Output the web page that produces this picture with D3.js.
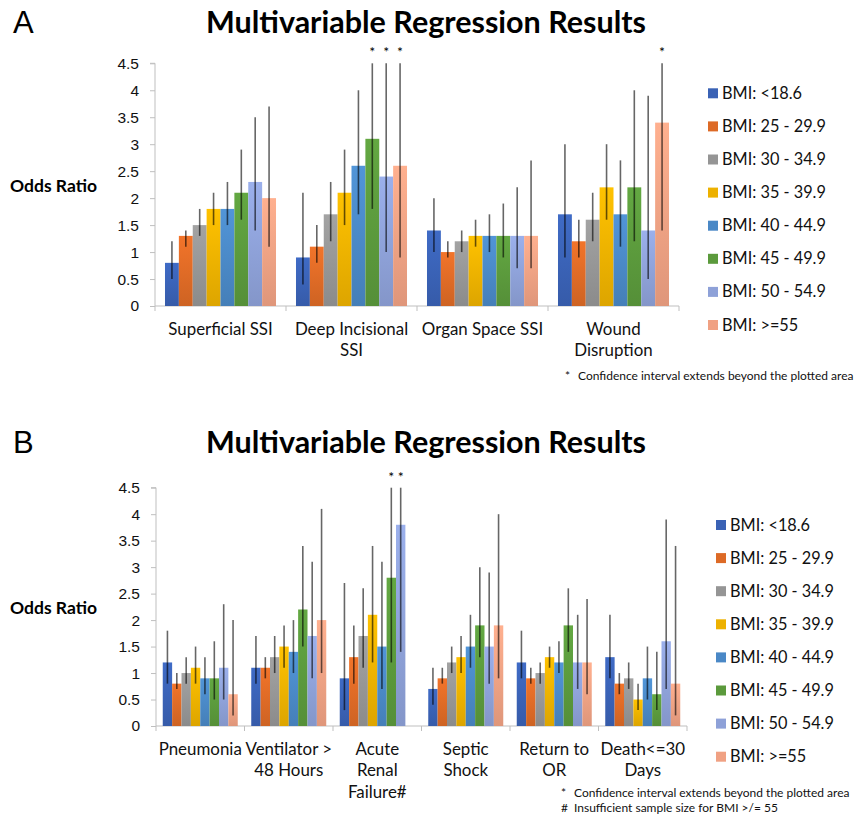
<!DOCTYPE html>
<html>
<head>
<meta charset="utf-8">
<script src="https://cdn.jsdelivr.net/npm/d3@7"></script>
<style>
  body { margin: 0; background: #fff; }
  svg { display: block; font-family: Lato, "Open Sans", sans-serif; }
  .axis path, .axis line { stroke: #bfbfbf; }
  .axis text { font-size: 15.5px; fill: #111; }
</style>
</head>
<body>
<svg id="chart" width="856" height="819"></svg>
<script>
//

const bmiGroups = ['BMI: <18.6', 'BMI: 25 - 29.9', 'BMI: 30 - 34.9', 'BMI: 35 - 39.9',
  'BMI: 40 - 44.9', 'BMI: 45 - 49.9', 'BMI: 50 - 54.9', 'BMI: >=55']
const bmiColors = ['#3a62b5', '#dd6a26', '#959595', '#edb100', '#4a88c6', '#5b9a3c', '#8ea1d8', '#f0a183']
const yTicks = [0, 0.5, 1, 1.5, 2, 2.5, 3, 3.5, 4, 4.5]

// panel A, wound outcomes (null hi = CI beyond plotted area)
const catsA = ['Superficial SSI', 'Deep Incisional|SSI', 'Organ Space SSI', 'Wound|Disruption']
const orA = [
  [0.8, 1.3, 1.5, 1.8, 1.8, 2.1, 2.3, 2.0],
  [0.9, 1.1, 1.7, 2.1, 2.6, 3.1, 2.4, 2.6],
  [1.4, 1.0, 1.2, 1.3, 1.3, 1.3, 1.3, 1.3],
  [1.7, 1.2, 1.6, 2.2, 1.7, 2.2, 1.4, 3.4]
]
const loA = [
  [0.5, 1.1, 1.3, 1.5, 1.5, 1.6, 1.4, 1.1],
  [0.4, 0.8, 1.2, 1.5, 1.7, 1.8, 1.0, 0.9],
  [1.0, 0.9, 1.0, 1.1, 1.0, 0.9, 0.7, 0.7],
  [0.9, 0.9, 1.2, 1.6, 1.1, 1.2, 0.5, 1.4]
]
const hiA = [
  [1.2, 1.4, 1.8, 2.1, 2.3, 2.9, 3.5, 3.7],
  [2.1, 1.5, 2.3, 2.9, 4.0, null, null, null],
  [2.0, 1.2, 1.4, 1.6, 1.7, 1.9, 2.2, 2.7],
  [3.0, 1.6, 2.1, 3.0, 2.7, 4.0, 3.9, null]
]

// panel B, systemic outcomes (null or = no estimate)
const catsB = ['Pneumonia', 'Ventilator >|48 Hours', 'Acute|Renal|Failure#', 'Septic|Shock', 'Return to|OR', 'Death<=30|Days']
const orB = [
  [1.2, 0.8, 1.0, 1.1, 0.9, 0.9, 1.1, 0.6],
  [1.1, 1.1, 1.3, 1.5, 1.4, 2.2, 1.7, 2.0],
  [0.9, 1.3, 1.7, 2.1, 1.5, 2.8, 3.8, null],
  [0.7, 0.9, 1.2, 1.3, 1.5, 1.9, 1.5, 1.9],
  [1.2, 0.9, 1.0, 1.3, 1.2, 1.9, 1.2, 1.2],
  [1.3, 0.8, 0.9, 0.5, 0.9, 0.6, 1.6, 0.8]
]
const loB = [
  [0.8, 0.7, 0.8, 0.8, 0.6, 0.5, 0.5, 0.2],
  [0.8, 0.9, 1.0, 1.1, 1.0, 1.5, 0.9, 1.0],
  [0.3, 0.8, 1.1, 1.2, 0.7, 1.2, 1.4, null],
  [0.4, 0.8, 1.0, 1.0, 1.1, 1.3, 0.8, 0.9],
  [0.9, 0.8, 0.8, 1.1, 1.0, 1.4, 0.7, 0.6],
  [0.9, 0.6, 0.7, 0.3, 0.5, 0.3, 0.7, 0.2]
]
const hiB = [
  [1.8, 1.0, 1.3, 1.5, 1.3, 1.6, 2.3, 2.0],
  [1.7, 1.3, 1.7, 1.9, 2.0, 3.4, 3.1, 4.1],
  [2.7, 1.9, 2.6, 3.4, 3.1, null, null, null],
  [1.1, 1.1, 1.5, 1.7, 2.1, 3.0, 2.9, 4.0],
  [1.8, 1.1, 1.2, 1.5, 1.6, 2.6, 2.1, 2.4],
  [2.1, 1.0, 1.2, 0.8, 1.5, 1.4, 3.9, 3.4]
]

const footA = ['Confidence interval extends beyond the plotted area']
const footB = ['Confidence interval extends beyond the plotted area', 'Insufficient sample size for BMI >/= 55']

//

const svg = d3.select('#chart')
const defs = svg.append('defs')

bmiColors.forEach((c, i) => {
  const g = defs.append('linearGradient')
      .attr('id', `grad${i}`)
      .attr('x1', 0).attr('y1', 0).attr('x2', 0).attr('y2', 1)
  g.append('stop').attr('offset', '0%').attr('stop-color', d3.color(c).brighter(0.25))
  g.append('stop').attr('offset', '100%').attr('stop-color', d3.color(c).darker(0.2))
})

drawPanel({
  letter: 'A', top: 0, cats: catsA, or: orA, lo: loA, hi: hiA,
  x0: 155, x1: 679, yZero: 306, yTop: 63.3,
  legendX: 708, legendY: 93.3, labelY: 334.5,
  notes: footA, noteMarks: ['*'], noteX: 565, noteY: 380
})

drawPanel({
  letter: 'B', top: 420, cats: catsB, or: orB, lo: loB, hi: hiB,
  x0: 156, x1: 687, yZero: 726, yTop: 487.7,
  legendX: 716, legendY: 525, labelY: 754.5,
  notes: footB, noteMarks: ['*', '#'], noteX: 561, noteY: 797
})

function drawPanel (p) {
  const g = svg.append('g')

  g.append('text')
      .attr('x', 13)
      .attr('y', p.top + 33)
      .attr('font-size', 31)
      .attr('font-family', 'Liberation Sans, Arial, sans-serif')
      .text(p.letter)

  g.append('text')
      .attr('x', 426)
      .attr('y', p.top + 33)
      .attr('text-anchor', 'middle')
      .attr('font-size', 30.5)
      .attr('font-weight', 'bold')
      .text('Multivariable Regression Results')

  g.append('text')
      .attr('x', 10)
      .attr('y', (p.yZero + p.yTop) / 2 + 7)
      .attr('font-size', 17.5)
      .attr('font-weight', 'bold')
      .text('Odds Ratio')

  const x = d3.scaleBand()
    .domain(p.cats)
    .range([p.x0, p.x1])

  const xi = d3.scaleBand()
    .domain(d3.range(bmiGroups.length))
    .range([0, x.bandwidth()])
    .paddingOuter(0.72)

  const y = d3.scaleLinear()
    .domain([0, 4.5])
    .range([p.yZero, p.yTop])

  const yAxis = d3.axisLeft(y)
    .tickValues(yTicks)
    .tickSize(5)
    .tickPadding(11)
    .tickFormat(d3.format('~g'))

  g.append('g')
      .attr('class', 'axis')
      .attr('transform', `translate(${p.x0},0)`)
      .call(yAxis)
      .call(s => s.select('.domain').attr('d', `M-5,${y(4.5)}H0V${y(0)}`))

  // x axis with ticks at category boundaries
  const xAxis = g.append('g')
      .attr('class', 'axis')
  xAxis.append('line')
      .attr('x1', p.x0).attr('x2', p.x1)
      .attr('y1', y(0)).attr('y2', y(0))
  xAxis.selectAll('.bound')
    .data(p.cats.map(c => x(c)).concat([p.x1]))
    .join('line')
      .attr('class', 'bound')
      .attr('x1', d => d).attr('x2', d => d)
      .attr('y1', y(0)).attr('y2', y(0) + 5)

  xAxis.selectAll('.catlabel')
    .data(p.cats)
    .join('text')
      .attr('class', 'catlabel')
      .attr('text-anchor', 'middle')
      .style('font-size', '16.9px')
      .attr('fill', '#111')
      .attr('transform', d => `translate(${x(d) + x.bandwidth() / 2},${p.labelY})`)
      .each(function (d) {
        d3.select(this).selectAll('tspan')
          .data(d.split('|'))
          .join('tspan')
            .attr('x', 0)
            .attr('y', (t, i) => i * 21.7)
            .text(t => t)
      })

  // bars
  const rows = []
  p.cats.forEach((c, ci) => {
    bmiGroups.forEach((b, bi) => {
      if (p.or[ci][bi] == null) return
      rows.push({ cat: c, bi, or: p.or[ci][bi], lo: p.lo[ci][bi], hi: p.hi[ci][bi] })
    })
  })

  const bars = g.append('g')
    .selectAll('g')
    .data(rows)
    .join('g')
      .attr('transform', d => `translate(${x(d.cat) + xi(d.bi)},0)`)

  bars.append('rect')
      .attr('y', d => y(d.or))
      .attr('width', xi.bandwidth())
      .attr('height', d => y(0) - y(d.or))
      .attr('fill', d => `url(#grad${d.bi})`)

  bars.append('line')
      .attr('x1', xi.bandwidth() / 2)
      .attr('x2', xi.bandwidth() / 2)
      .attr('y1', d => y(d.lo))
      .attr('y2', d => y(d.hi == null ? 4.5 : d.hi))
      .attr('stroke', '#000')
      .attr('stroke-opacity', 0.6)
      .attr('stroke-width', 1.6)

  bars.filter(d => d.hi == null)
    .append('text')
      .attr('x', xi.bandwidth() / 2)
      .attr('y', y(4.5) - 6)
      .attr('text-anchor', 'middle')
      .attr('font-size', 14)
      .text('*')

  // legend
  const legend = g.append('g')
    .selectAll('g')
    .data(bmiGroups)
    .join('g')
      .attr('transform', (d, i) => `translate(${p.legendX},${p.legendY + i * 33.1})`)

  legend.append('rect')
      .attr('y', -5)
      .attr('width', 10)
      .attr('height', 10)
      .attr('fill', (d, i) => bmiColors[i])

  legend.append('text')
      .attr('x', 14)
      .attr('y', 5.5)
      .attr('font-size', 16.3)
      .attr('fill', '#111')
      .text(d => d)

  // footnotes
  const notes = g.append('g')
    .selectAll('g')
    .data(p.notes)
    .join('g')
      .attr('transform', (d, i) => `translate(${p.noteX},${p.noteY + i * 14.5})`)
      .attr('font-size', 12)
      .attr('fill', '#111')

  notes.append('text')
      .text((d, i) => p.noteMarks[i])
  notes.append('text')
      .attr('x', 13)
      .text(d => d)
}
</script>
</body>
</html>
